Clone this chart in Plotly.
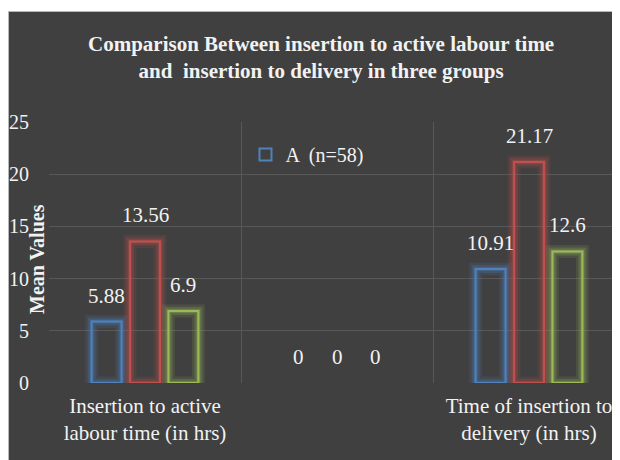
import plotly.graph_objects as go

categories = ["Insertion to active<br>labour time (in hrs)", " ", "Time of insertion to<br>delivery (in hrs)"]
series_names = ["A  (n=58)", "B", "C"]
series_values = [
    [5.88, 0, 10.91],
    [13.56, 0, 21.17],
    [6.9, 0, 12.6],
]
series_rgb = [(79, 129, 189), (192, 80, 77), (155, 187, 89)]
y_ticks = [0, 5, 10, 15, 20, 25]

BG = "#404040"
FONT = "Liberation Serif"
TXT = "#f2f2f2"
W, H = 620, 460
ML, MR, MT, MB = 41, 0, 114, 85
PW, PH = W - ML - MR, H - MT - MB
CAT_PX = 192.0
BARGAP = 0.4
SLOT = CAT_PX * (1 - BARGAP) / 3


def rgba(c, a):
    return "rgba(%d,%d,%d,%g)" % (c[0], c[1], c[2], a)


fig = go.Figure()
for i, (name, vals) in enumerate(zip(series_names, series_values)):
    for gw, ga in [(13, 0.14), (8, 0.22), (4, 0.3)]:
        fig.add_trace(go.Bar(
            x=categories, y=vals, offsetgroup=str(i), showlegend=False,
            marker=dict(color="rgba(0,0,0,0)",
                        line=dict(color=rgba(series_rgb[i], ga), width=[gw if v else 0 for v in vals])),
            hoverinfo="skip",
        ))
    fig.add_trace(go.Bar(
        x=categories, y=vals, offsetgroup=str(i), name=name, showlegend=(i == 0),
        marker=dict(color="rgba(0,0,0,0)",
                    line=dict(color=rgba(series_rgb[i], 1), width=[2 if v else 0 for v in vals])),
    ))

annotations = []
for i, vals in enumerate(series_values):
    for cat, v in zip(categories, vals):
        annotations.append(dict(
            x=cat, y=v, xref="x", yref="y", text=f"{v:g}", showarrow=False,
            xanchor="center", yanchor="bottom", xshift=(i - 1) * SLOT, yshift=12,
            font=dict(family=FONT, size=21, color=TXT),
        ))


def px_x(p):
    return (p - ML) / PW


def px_y(p):
    return (H - MB - p) / PH


annotations.append(dict(
    text="<b>Mean Values</b>", textangle=-90, xref="paper", yref="paper",
    x=px_x(29), y=px_y(251), showarrow=False,
    xanchor="center", yanchor="middle",
    font=dict(family=FONT, size=20, color=TXT),
))

fig.update_layout(
    width=W, height=H,
    margin=dict(l=ML, r=MR, t=MT, b=MB, autoexpand=False),
    paper_bgcolor=BG, plot_bgcolor=BG,
    barmode="group", bargap=BARGAP, bargroupgap=0.22,
    font=dict(family=FONT, size=20, color=TXT),
    title=dict(
        text="<b>Comparison Between insertion to active labour time<br>and  insertion to delivery in three groups</b>",
        x=0.505, xanchor="center", xref="container",
        y=1 - 43 / H, yanchor="top", yref="container",
        font=dict(family=FONT, size=21, color=TXT),
    ),
    xaxis=dict(
        type="category", range=[-0.5, -0.5 + PW / CAT_PX], tickson="boundaries",
        showgrid=True, gridcolor="#585858", gridwidth=1, ticks="",
        showline=False, tickfont=dict(family=FONT, size=21, color=TXT),
        ticklabelstandoff=8, automargin=False,
    ),
    yaxis=dict(
        range=[0, 25], tickvals=y_ticks, showgrid=True, gridcolor="#585858",
        zeroline=False, showline=False, ticks="",
        tickfont=dict(family=FONT, size=20, color=TXT), ticklabelstandoff=19,
        automargin=False,
    ),
    legend=dict(
        x=px_x(237.5), xanchor="left", y=px_y(127), yanchor="top",
        bgcolor="rgba(0,0,0,0)", font=dict(family=FONT, size=20, color=TXT),
    ),
    showlegend=True,
    annotations=annotations,
    shapes=[
        dict(type="rect", xref="paper", yref="paper", x0=px_x(-5), x1=px_x(W + 5),
             y0=px_y(3), y1=px_y(-5), fillcolor="white", line=dict(width=0), layer="above"),
        dict(type="line", xref="paper", yref="paper", x0=px_x(0), x1=px_x(W + 5),
             y0=px_y(3.5), y1=px_y(3.5), line=dict(color="#b8b8b8", width=1), layer="above"),
        dict(type="line", xref="paper", yref="paper", x0=px_x(0.5), x1=px_x(0.5),
             y0=px_y(H + 5), y1=px_y(3.5), line=dict(color="#b8b8b8", width=1), layer="above"),
    ],
)

fig.write_html("out.html")
